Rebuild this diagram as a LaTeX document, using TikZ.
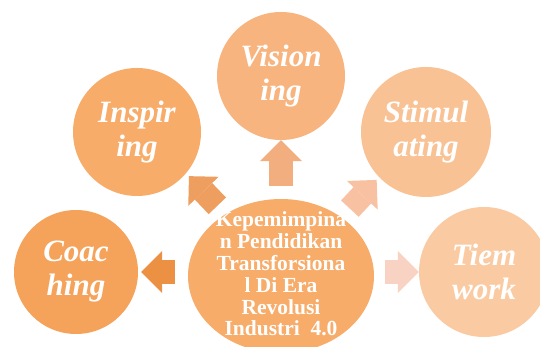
\documentclass[tikz,border=0pt]{standalone}
\usepackage{fontspec}
\setmainfont{Liberation Serif}
\usetikzlibrary{arrows.meta,shapes.geometric}

\definecolor{hubfill}{HTML}{F7AC6A}
\definecolor{visionfill}{HTML}{F8B47E}
\definecolor{inspfill}{HTML}{F7AC6A}
\definecolor{stimfill}{HTML}{F9C294}
\definecolor{coachfill}{HTML}{F5A35A}
\definecolor{tiemfill}{HTML}{FACBA2}
\definecolor{arrcoach}{HTML}{EC9044}
\definecolor{arrinsp}{HTML}{EE9F60}
\definecolor{arrvision}{HTML}{F3AE7F}
\definecolor{arrstim}{HTML}{F8C1A2}
\definecolor{arrtiem}{HTML}{F8D3C3}

\tikzstyle{bubble} = [circle, inner sep=0pt, text=white, align=center,
    font=\bfseries\itshape\fontsize{31}{34}\selectfont]
\tikzstyle{hubtext} = [inner sep=0pt, text=white, align=center,
    font=\bfseries\fontsize{21.5}{21.8}\selectfont]
\tikzstyle{blockarrow} = [line width=24pt,
    -{Triangle[width=42pt, length=21pt, line width=0pt]}]

\begin{document}
\begin{tikzpicture}[x=1pt, y=1pt]
    \useasboundingbox (0,0) rectangle (540,347);
    \clip (0,0) rectangle (540,347);
%------------ Kreise ---------------------
    \node [ellipse, fill=hubfill, inner sep=0pt, minimum width=186pt,
        minimum height=154pt] (hub) at (281,71) {};
    \node [hubtext] (hubtxt) at ([yshift=2pt]hub.center)
        {Kepemimpina\\n Pendidikan\\Transforsiona\\l Di Era\\Revolusi\\Industri\ \ 4.0};
    \node [bubble, fill=visionfill, minimum size=128pt] (vision) at (281,271) {Vision\\ing};
    \node [bubble, fill=inspfill, minimum size=128pt] (insp) at (137,215) {Inspir\\ing};
    \node [bubble, fill=stimfill, minimum size=130pt] (stim) at (426,215) {Stimul\\ating};
    \node [bubble, fill=coachfill, minimum size=124pt] (coach) at (76,75) {Coac\\hing};
    \node [bubble, fill=tiemfill, minimum size=130pt] (tiem) at (484,75) {Tiem\\work};
%------------ Pfeile ---------------------
    \draw [blockarrow, arrcoach, shorten <=13pt, shorten >=3pt]
        (hub.west |- coach.east) -- (coach.east);
    \draw [blockarrow, arrinsp, shorten <=11.5pt, shorten >=4pt] (hub.132) -- (insp.-40);
    \draw [blockarrow, arrvision, shorten <=13pt, shorten >=0pt] (hub.north) -- (vision.south);
    \draw [blockarrow, arrstim, shorten <=12pt, shorten >=3.6pt] (hub.44) -- (stim.224);
    \draw [blockarrow, arrtiem, shorten <=11pt, shorten >=0pt]
        (hub.east |- tiem.west) -- (tiem.west);
\end{tikzpicture}
\end{document}
